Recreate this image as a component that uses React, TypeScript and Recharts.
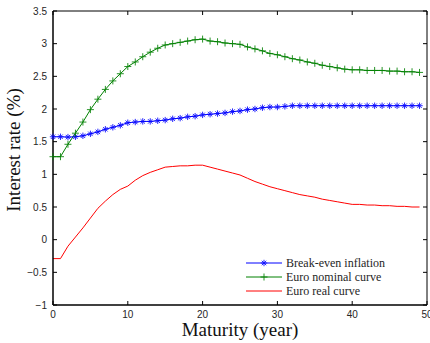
import { LineChart, Line, XAxis, YAxis } from 'recharts';

const maturity = [
  0, 1, 2, 3, 4, 5, 6, 7, 8, 9, 10, 11, 12, 13, 14, 15, 16, 17, 18, 19, 20, 21, 22, 23, 24,
  25, 26, 27, 28, 29, 30, 31, 32, 33, 34, 35, 36, 37, 38, 39, 40, 41, 42, 43, 44, 45, 46, 47, 48, 49,
];

const breakEven = [
  1.575, 1.575, 1.57, 1.575, 1.59, 1.62, 1.65, 1.69, 1.72, 1.75, 1.79, 1.8, 1.81, 1.81, 1.82,
  1.83, 1.85, 1.86, 1.88, 1.89, 1.91, 1.92, 1.93, 1.94, 1.96, 1.97, 1.99, 2.0, 2.02, 2.03,
  2.03, 2.04, 2.05, 2.05, 2.05, 2.05, 2.05, 2.05, 2.05, 2.05, 2.05, 2.05, 2.05, 2.05, 2.05,
  2.05, 2.05, 2.05, 2.05, 2.05,
];

const nominal = [
  1.27, 1.27, 1.46, 1.63, 1.8, 1.99, 2.15, 2.3, 2.43, 2.54, 2.65, 2.72, 2.8, 2.87, 2.93,
  2.98, 3.0, 3.02, 3.04, 3.06, 3.07, 3.04, 3.03, 3.01, 3.0, 2.99, 2.95, 2.92, 2.89, 2.85,
  2.83, 2.8, 2.77, 2.75, 2.72, 2.7, 2.67, 2.65, 2.63, 2.61, 2.6, 2.6, 2.59, 2.59, 2.59,
  2.58, 2.58, 2.57, 2.57, 2.56,
];

const real = [
  -0.29, -0.29, -0.1, 0.04, 0.18, 0.33, 0.48, 0.59, 0.69, 0.77, 0.82, 0.91, 0.98, 1.03, 1.07,
  1.11, 1.12, 1.13, 1.13, 1.14, 1.14, 1.11, 1.08, 1.05, 1.02, 0.99, 0.94, 0.89, 0.85, 0.81,
  0.78, 0.75, 0.72, 0.69, 0.67, 0.65, 0.62, 0.6, 0.58, 0.56, 0.54, 0.54, 0.53, 0.53, 0.52,
  0.52, 0.51, 0.51, 0.5, 0.5,
];

const xTicks = [0, 10, 20, 30, 40, 50];
const yTicks = [-1, -0.5, 0, 0.5, 1, 1.5, 2, 2.5, 3, 3.5];

const seriesNames = ['Break-even inflation', 'Euro nominal curve', 'Euro real curve'];
const xTitle = 'Maturity (year)';
const yTitle = 'Interest rate (%)';

const data = maturity.map((m, i) => ({
  maturity: m,
  breakEven: breakEven[i],
  nominal: nominal[i],
  real: real[i],
}));

const TICK_LEN = 4;
const tickFont = { fontFamily: '"Liberation Sans", Arial, sans-serif', fontSize: 10, fill: '#262626' };
const serif = '"Liberation Serif", "Times New Roman", serif';

const fmtY = (v: number) => (v < 0 ? '\u2212' + Math.abs(v) : String(v));

// ticks point inward like the matlab box
const BottomTick = (props: any) => {
  const { x, y, payload } = props;
  return (
    <g>
      <line x1={x} y1={y} x2={x} y2={y - TICK_LEN} stroke="#000" />
      <text x={x} y={y + 13} textAnchor="middle" {...tickFont}>
        {payload.value}
      </text>
    </g>
  );
};

const LeftTick = (props: any) => {
  const { x, y, payload } = props;
  return (
    <g>
      <line x1={x} y1={y} x2={x + TICK_LEN} y2={y} stroke="#000" />
      <text x={x - 6} y={y + 3.5} textAnchor="end" {...tickFont}>
        {fmtY(payload.value)}
      </text>
    </g>
  );
};

const TopTick = (props: any) => {
  const { x, y } = props;
  return <line x1={x} y1={y} x2={x} y2={y + TICK_LEN} stroke="#000" />;
};

const RightTick = (props: any) => {
  const { x, y } = props;
  return <line x1={x} y1={y} x2={x - TICK_LEN} y2={y} stroke="#000" />;
};

// plain <text> titles (no tspan) so the serif face sticks
const XTitle = (props: any) => {
  const { viewBox } = props;
  const cx = viewBox.x + viewBox.width / 2;
  const by = viewBox.y + viewBox.height - 7;
  return (
    <text x={cx} y={by} textAnchor="middle" fontFamily={serif} fontSize={19} fill="#111">
      {xTitle}
    </text>
  );
};

const YTitle = (props: any) => {
  const { viewBox } = props;
  const bx = viewBox.x + 20;
  const cy = viewBox.y + viewBox.height / 2 - 8;
  return (
    <text
      x={bx}
      y={cy}
      transform={`rotate(-90, ${bx}, ${cy})`}
      textAnchor="middle"
      fontFamily={serif}
      fontSize={19}
      fill="#111"
    >
      {yTitle}
    </text>
  );
};

const Star = (props: any) => {
  const { cx, cy } = props;
  if (cx == null || cy == null) return null;
  const r = 3.2;
  const d = r * 0.7;
  return (
    <g stroke="#0000ff" strokeWidth={1} opacity={0.85}>
      <line x1={cx - r} y1={cy} x2={cx + r} y2={cy} />
      <line x1={cx} y1={cy - r} x2={cx} y2={cy + r} />
      <line x1={cx - d} y1={cy - d} x2={cx + d} y2={cy + d} />
      <line x1={cx - d} y1={cy + d} x2={cx + d} y2={cy - d} />
    </g>
  );
};

const Plus = (props: any) => {
  const { cx, cy } = props;
  if (cx == null || cy == null) return null;
  const r = 3.5;
  return (
    <g stroke="#008000" strokeWidth={1} opacity={0.85}>
      <line x1={cx - r} y1={cy} x2={cx + r} y2={cy} />
      <line x1={cx} y1={cy - r} x2={cx} y2={cy + r} />
    </g>
  );
};

const legendColors = ['#0000ff', '#008000', '#ff0000'];
const legendMarkers = [Star, Plus, null];

// legend kept outside the chart so it doesn't steal plot height
const LegendBox = () => (
  <svg width={180} height={44} style={{ position: 'absolute', left: 246, top: 256 }}>
    {seriesNames.map((name, i) => {
      const M = legendMarkers[i];
      const cy = 7 + i * 14;
      return (
        <g key={name}>
          <line x1={0} y1={cy} x2={36} y2={cy} stroke={legendColors[i]} />
          {M && <M cx={18} cy={cy} />}
          <text x={40} y={cy + 4} fontFamily={serif} fontSize={12} fill="#262626">
            {name}
          </text>
        </g>
      );
    })}
  </svg>
);

export default function App() {
  return (
    <div style={{ position: 'absolute', left: 0, top: 0, width: 430, height: 343, background: '#fff' }}>
      <LineChart width={430} height={343} data={data} margin={{ top: 10, right: 2, bottom: 0, left: 0 }}>
        <XAxis
          dataKey="maturity"
          type="number"
          domain={[0, 50]}
          ticks={xTicks}
          interval={0}
          tickSize={0}
          tickMargin={0}
          tickLine={false}
          tick={<BottomTick />}
          axisLine={{ stroke: '#000', strokeWidth: 1.5 }}
          height={38}
          label={<XTitle />}
        />
        <XAxis
          xAxisId="top"
          orientation="top"
          dataKey="maturity"
          type="number"
          domain={[0, 50]}
          ticks={xTicks}
          interval={0}
          tickSize={0}
          tickMargin={0}
          tickLine={false}
          tick={<TopTick />}
          axisLine={{ stroke: '#000', strokeWidth: 1 }}
          height={1}
        />
        <YAxis
          type="number"
          domain={[-1, 3.5]}
          ticks={yTicks}
          interval={0}
          tickSize={0}
          tickMargin={0}
          tickLine={false}
          tick={<LeftTick />}
          axisLine={{ stroke: '#000', strokeWidth: 1.5 }}
          width={53}
          label={<YTitle />}
        />
        <YAxis
          yAxisId="right"
          orientation="right"
          type="number"
          domain={[-1, 3.5]}
          ticks={yTicks}
          interval={0}
          tickSize={0}
          tickMargin={0}
          tickLine={false}
          tick={<RightTick />}
          axisLine={{ stroke: '#000', strokeWidth: 1 }}
          width={1}
        />
        <Line
          dataKey="breakEven"
          name={seriesNames[0]}
          type="linear"
          stroke="#0000ff"
          strokeWidth={1}
          dot={<Star />}
          isAnimationActive={false}
        />
        <Line
          dataKey="nominal"
          name={seriesNames[1]}
          type="linear"
          stroke="#008000"
          strokeWidth={1}
          dot={<Plus />}
          isAnimationActive={false}
        />
        <Line
          dataKey="real"
          name={seriesNames[2]}
          xAxisId="top"
          yAxisId="right"
          type="linear"
          stroke="#ff0000"
          strokeWidth={1}
          dot={false}
          isAnimationActive={false}
        />
      </LineChart>
      <LegendBox />
    </div>
  );
}
